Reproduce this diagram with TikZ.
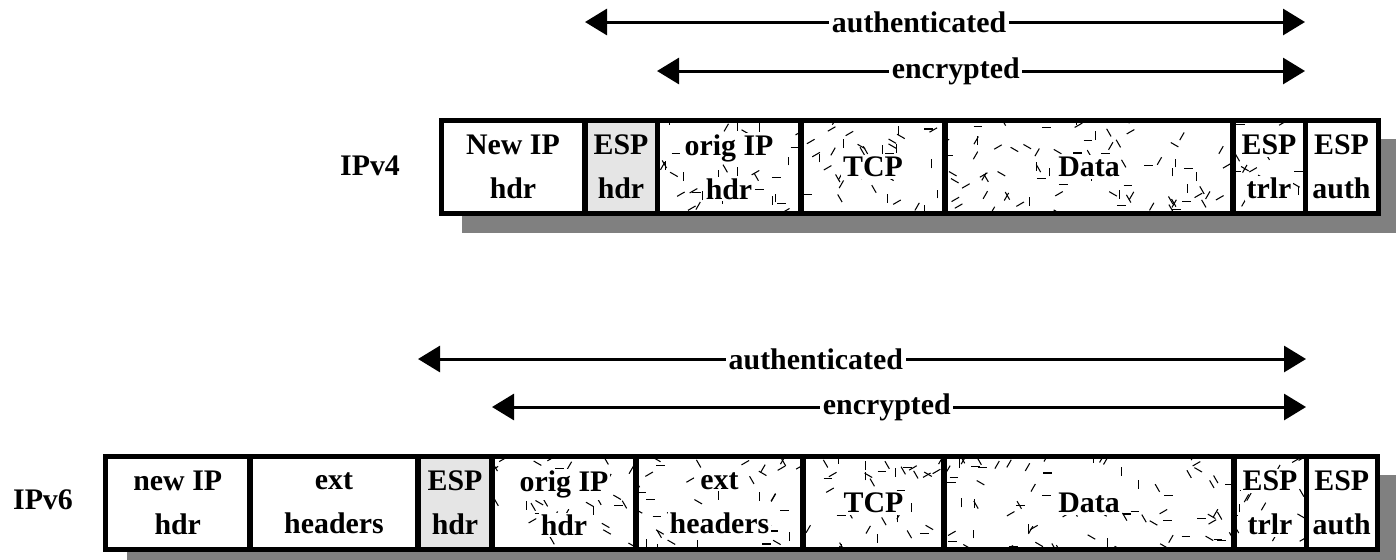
\documentclass[tikz,border=0pt]{standalone}
\usepackage{fontspec}
\setmainfont{Liberation Serif}
\usetikzlibrary{arrows.meta, calc, backgrounds}

% white patch behind a text line on a speckled cell
\newcommand{\clr}[1]{{\setlength{\fboxsep}{1pt}\colorbox{white}{#1}}}
% random short strokes inside a cell
\newcommand{\speckle}[1]{%
  \foreach \k in {1,...,#1}{
    \pgfmathsetmacro{\px}{rnd}
    \pgfmathsetmacro{\py}{rnd}
    \pgfmathsetmacro{\pa}{30*random(0,5)}
    \coordinate (fp) at ($($(path picture bounding box.south west)!\px!(path picture bounding box.south east)$)!\py!($(path picture bounding box.north west)!\px!(path picture bounding box.north east)$)$);
    \draw[fleck] (fp) ++(\pa:-2.5pt) -- ++(\pa:5pt);
  }}

\begin{document}
\begin{tikzpicture}[x=0.02cm, y=-0.02cm,
            font=\bfseries\fontsize{17}{25}\selectfont,
            cell/.style={shape=rectangle, draw=black, line width=0.1cm, fill=white,
                minimum height=1.88cm, inner sep=0pt, outer sep=0pt, align=center},
            espcell/.style={cell, fill=black!10},
            grain/.style={cell, path picture={\speckle{#1}}},
            fleck/.style={line width=0.6pt, black},
            spanarrow/.style={line width=0.06cm,
                {Triangle[length=0.44cm, width=0.52cm]}-{Triangle[length=0.44cm, width=0.52cm]}},
            spanlabel/.style={fill=white, inner xsep=1.5pt, inner ysep=0pt},
            boxshadow/.style={fill=black!50},
        ]
        \pgfmathsetseed{5}
        \useasboundingbox (0,0) rectangle (1396,560);

        % IPv4
        \node (v4lbl) at (370,166) {IPv4};
        \node[cell, minimum width=2.88cm] (v4new) at (513,167) {New IP\\hdr};
        \node[espcell, minimum width=1.44cm] (v4esp) at (621,167) {ESP\\hdr};
        \node[grain=40, minimum width=2.88cm] (v4orig) at (729,167) {\clr{orig IP}\\\clr{hdr}};
        \node[grain=40, minimum width=2.88cm] (v4tcp) at (873,167) {\clr{TCP}};
        \node[grain=80, minimum width=5.76cm] (v4data) at (1089,167) {\clr{Data}};
        \node[grain=20, minimum width=1.44cm] (v4trlr) at (1269,167) {\clr{ESP}\\\clr{trlr}};
        \node[cell, minimum width=1.46cm] (v4auth) at (1341.5,167) {ESP\\auth};

        % IPv6
        \node (v6lbl) at (43,500) {IPv6};
        \node[cell, minimum width=2.89cm] (v6new) at (177.75,503) {new IP\\hdr};
        \node[cell, minimum width=3.36cm] (v6ext) at (334,503) {ext\\headers};
        \node[espcell, minimum width=1.48cm] (v6esp) at (455,503) {ESP\\hdr};
        \node[grain=40, minimum width=2.88cm] (v6orig) at (564,503) {\clr{orig IP}\\\clr{hdr}};
        \node[grain=46, minimum width=3.34cm] (v6exth) at (719.5,503) {\clr{ext}\\\clr{headers}};
        \node[grain=40, minimum width=2.82cm] (v6tcp) at (873.5,503) {\clr{TCP}};
        \node[grain=80, minimum width=5.8cm] (v6data) at (1089,503) {\clr{Data}};
        \node[grain=20, minimum width=1.44cm] (v6trlr) at (1270,503) {\clr{ESP}\\\clr{trlr}};
        \node[cell, minimum width=1.43cm] (v6auth) at (1341.75,503) {ESP\\auth};

        % shadows
        \begin{scope}[on background layer]
            \clip (0,0) rectangle (1396,560);
            \fill[boxshadow] ($(v4new.north west)+(21,19)$) rectangle ($(v4auth.south east)+(21,19)$);
            \fill[boxshadow] ($(v6new.north west)+(21,19)$) rectangle ($(v6auth.south east)+(21,19)$);
        \end{scope}

        % coverage arrows
        \coordinate (auth4L) at ($(v4esp.north west)+(0,-98)$);
        \coordinate (auth4R) at ($(v4auth.north west)+(0,-98)$);
        \coordinate (enc4L) at ($(v4orig.north west)+(0,-49)$);
        \coordinate (enc4R) at ($(v4auth.north west)+(0,-49)$);
        \coordinate (auth6L) at ($(v6esp.north west)+(0,-97)$);
        \coordinate (auth6R) at ($(v6auth.north west)+(0,-97)$);
        \coordinate (enc6L) at ($(v6orig.north west)+(0,-49)$);
        \coordinate (enc6R) at ($(v6auth.north west)+(0,-49)$);

        \draw[spanarrow] (auth4L) -- (auth4R) node[spanlabel, pos=0.464] {authenticated};
        \draw[spanarrow] (enc4L) -- (enc4R) node[spanlabel, pos=0.461] {encrypted};
        \draw[spanarrow] (auth6L) -- (auth6R) node[spanlabel, pos=0.448] {authenticated};
        \draw[spanarrow] (enc6L) -- (enc6R) node[spanlabel, pos=0.485] {encrypted};

    \end{tikzpicture}
\end{document}
